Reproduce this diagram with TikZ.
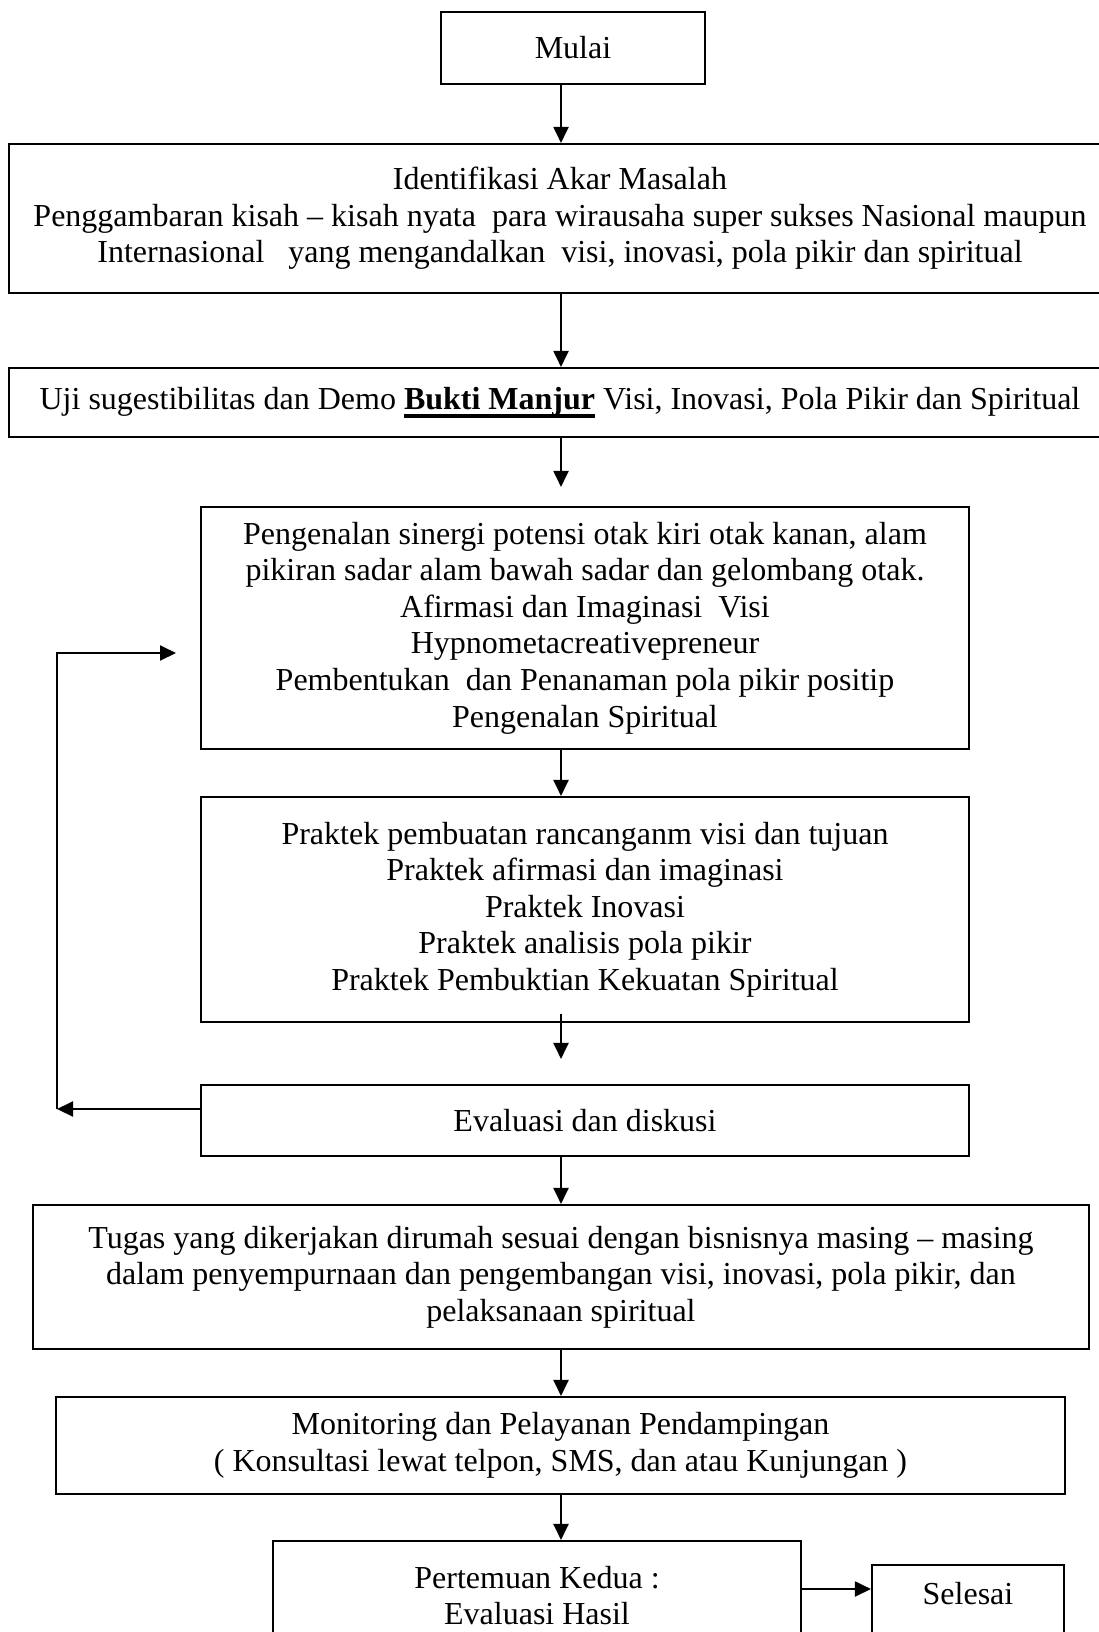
\documentclass[tikz,border=0pt]{standalone}
\usepackage{fontspec}
\setmainfont{Liberation Serif}
\usetikzlibrary{arrows.meta}
\newcommand\diagfont{\fontsize{32}{36.6}\selectfont}
\newcommand\ulbold[1]{\setbox0\hbox{\textbf{#1}}\rlap{\rule[-8pt]{\wd0}{3.5pt}}\box0}
\begin{document}
\begin{tikzpicture}[x=1pt,y=-1pt,
  box/.style={draw, line width=2.1pt, inner sep=0pt, align=center, font=\diagfont},
  arr/.style={line width=2pt, -{Triangle[length=16pt,width=15pt]}}]
\useasboundingbox (0,0) rectangle (1099,1632);
\clip (0,0) rectangle (1099,1632);
\fill[white] (0,0) rectangle (1099,1632);

\node[box, minimum width=264, minimum height=72] (mulai) at (573,48) {Mulai};
\node[box, minimum width=1102, minimum height=149] (ident) at (560,218.5)
  {Identifikasi Akar Masalah\\
   Penggambaran kisah – kisah nyata\ \ para wirausaha super sukses Nasional maupun\\
   Internasional\ \ \ yang mengandalkan\ \ visi, inovasi, pola pikir dan spiritual};
\node[box, minimum width=1102, minimum height=69] (uji) at (560,402.5)
  {Uji sugestibilitas dan Demo \ulbold{Bukti Manjur}\ Visi, Inovasi, Pola Pikir dan Spiritual};
\node[box, minimum width=768, minimum height=242] (peng) at (585,628)
  {Pengenalan sinergi potensi otak kiri otak kanan, alam\\
   pikiran sadar alam bawah sadar dan gelombang otak.\\
   Afirmasi dan Imaginasi\ \ Visi\\
   Hypnometacreativepreneur\\
   Pembentukan\ \ dan Penanaman pola pikir positip\\
   Pengenalan Spiritual};
\node[box, minimum width=768, minimum height=225] (prak) at (585,909.5)
  {Praktek pembuatan rancanganm visi dan tujuan\\
   Praktek afirmasi dan imaginasi\\
   Praktek Inovasi\\
   Praktek analisis pola pikir\\
   Praktek Pembuktian Kekuatan Spiritual};
\node[box, minimum width=768, minimum height=71] (eval) at (585,1120.5) {Evaluasi dan diskusi};
\node[box, minimum width=1056, minimum height=144] (tugas) at (561,1277)
  {Tugas yang dikerjakan dirumah sesuai dengan bisnisnya masing – masing\\
   dalam penyempurnaan dan pengembangan visi, inovasi, pola pikir, dan\\
   pelaksanaan spiritual};
\node[box, minimum width=1009, minimum height=97] (mon) at (560.5,1445.5)
  {Monitoring dan Pelayanan Pendampingan\\
   ( Konsultasi lewat telpon, SMS, dan atau Kunjungan )};
\node[box, minimum width=528, minimum height=109] (pert) at (537,1595.5)
  {Pertemuan Kedua :\\Evaluasi Hasil};
\node[box, minimum width=192, minimum height=100, text height=22pt, text depth=43pt] (sel) at (968,1615) {Selesai};

\coordinate (ax) at (561,0);
\draw[arr] (mulai.south -| ax) -- (ident.north -| ax);
\draw[arr] (ident.south -| ax) -- (uji.north -| ax);
\draw[arr, shorten >=19pt] (uji.south -| ax) -- (peng.north -| ax);
\draw[arr] (peng.south -| ax) -- (prak.north -| ax);
\draw[arr, shorten <=-9pt, shorten >=25pt] (prak.south -| ax) -- (eval.north -| ax);
\draw[arr] (eval.south -| ax) -- (tugas.north -| ax);
\draw[arr] (tugas.south -| ax) -- (mon.north -| ax);
\draw[arr] (mon.south -| ax) -- (pert.north -| ax);

\coordinate (fb1) at (57,1109);
\coordinate (fb2) at (57,653);
\coordinate (fbt) at (176,653);
\draw[arr] (eval.west |- fb1) -- (fb1);
\draw[arr] (fb1) -- (fb2) -- (fbt);

\coordinate (yc) at (0,1589);
\draw[arr] (pert.east |- yc) -- (sel.west |- yc);
\end{tikzpicture}
\end{document}
